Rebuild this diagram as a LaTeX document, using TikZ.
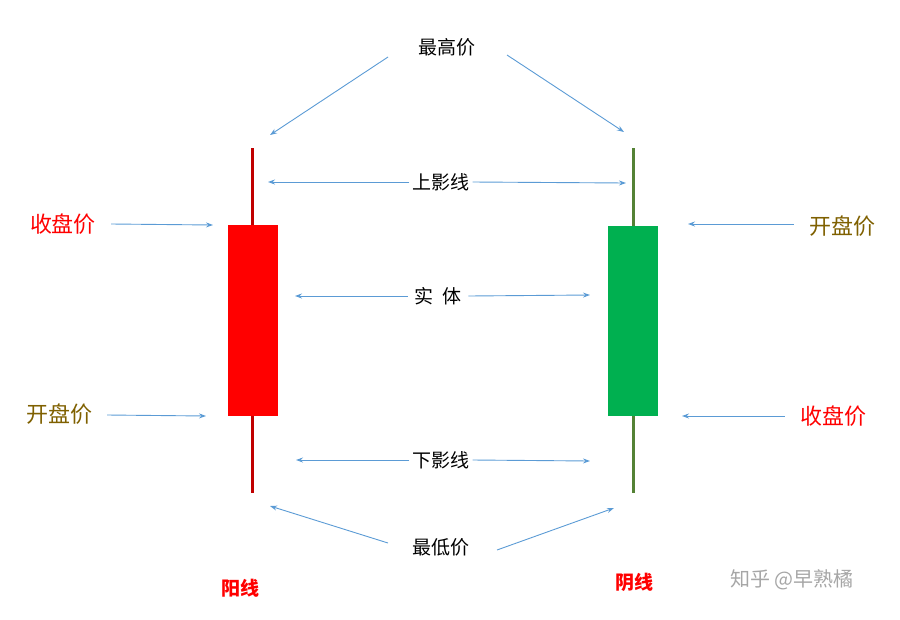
\documentclass[tikz,border=0pt]{standalone}
\usepackage{fontspec}
\newfontfamily\cjk{Noto Sans CJK SC}
\usetikzlibrary{arrows.meta}
\definecolor{wickred}{HTML}{C00000}
\definecolor{wickgreen}{HTML}{548235}
\definecolor{bodygreen}{HTML}{00B050}
\definecolor{arrowblue}{HTML}{5B9BD5}
\definecolor{olive}{HTML}{7F6000}
\tikzstyle{lbl} = [font=\cjk\fontsize{19}{19}\selectfont, text=black, inner sep=1pt]
\tikzstyle{price} = [font=\cjk\fontsize{22}{22}\selectfont, inner sep=1pt]
\tikzstyle{kind} = [font=\cjk\bfseries\fontsize{19}{19}\selectfont, text=red, inner sep=1pt]
\tikzstyle{arrow} = [arrowblue, line width=0.9pt, -{Stealth[length=7pt,width=5pt]}]

\begin{document}
\begin{tikzpicture}[x=1pt,y=-1pt]
\useasboundingbox (0,0) rectangle (900,619);

%Velas==============================================
\draw[wickred, line width=3pt] (252,148) -- (252,493);
\fill[red] (228,225) rectangle (278,416);
\draw[wickgreen, line width=3pt] (633,148) -- (633,493);
\fill[bodygreen] (608,226) rectangle (658,416);

%Textos==============================================
\node (high) [lbl] at (447,47) {最高价};
\node (upper) [lbl] at (441,182) {上影线};
\node (body) [lbl] at (438,296) {实\ \ 体};
\node (lower) [lbl] at (441,460) {下影线};
\node (low) [lbl] at (441,547) {最低价};
\node (closeL) [price, text=red] at (63,224) {收盘价};
\node (openL) [price, text=olive] at (60,414) {开盘价};
\node (openR) [price, text=olive] at (842,226) {开盘价};
\node (closeR) [price, text=red] at (833,416) {收盘价};
\node (yang) [kind] at (240,588) {阳线};
\node (yin) [kind] at (634,582) {阴线};
\node (mark) [font=\cjk\fontsize{20}{20}\selectfont, text=gray!70] at (792,580) {知乎 @早熟橘};

%Puntas==============================================
\coordinate (hiL) at (270,135);
\coordinate (hiR) at (624,132);
\coordinate (upL) at (268,182);
\coordinate (upR) at (626,183);
\coordinate (boL) at (295,296);
\coordinate (boR) at (590,295);
\coordinate (lwL) at (296,460);
\coordinate (lwR) at (590,461);
\coordinate (loL) at (270,506);
\coordinate (loR) at (614,508);
\coordinate (clL) at (213,225);
\coordinate (opL) at (206,416);
\coordinate (opR) at (688,224);
\coordinate (clR) at (682,416);

%Flechas==============================================
\draw [arrow] (388,57) -- (hiL);
\draw [arrow] (507,55) -- (hiR);
\draw [arrow] (upper.west) ++(-2,0) -- (upL);
\draw [arrow] (upper.east) ++(2,0) -- (upR);
\draw [arrow] (body.west) ++(-6,0) -- (boL);
\draw [arrow] (body.east) ++(6,0) -- (boR);
\draw [arrow] (lower.west) ++(-2,0) -- (lwL);
\draw [arrow] (lower.east) ++(2,0) -- (lwR);
\draw [arrow] (388,543) -- (loL);
\draw [arrow] (497,550) -- (loR);
\draw [arrow] (closeL.east) ++(14,0) -- (clL);
\draw [arrow] (openL.east) ++(13,1) -- (opL);
\draw [arrow] (openR.west) ++(-14,-2) -- (opR);
\draw [arrow] (closeR.west) ++(-14,0) -- (clR);
\end{tikzpicture}
\end{document}
